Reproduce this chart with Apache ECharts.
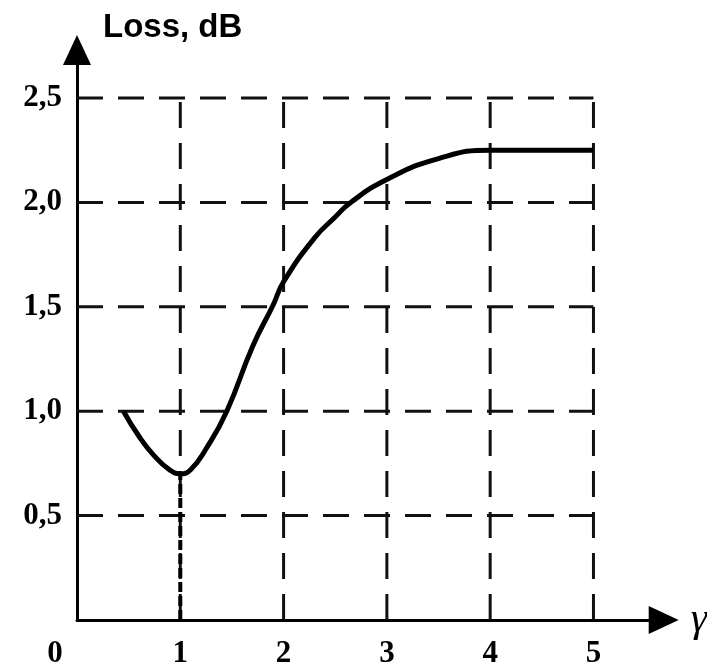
<!DOCTYPE html>
<html>
<head>
<meta charset="utf-8">
<script src="https://cdn.jsdelivr.net/npm/echarts@6/dist/echarts.min.js"></script>
<style>
html,body{margin:0;padding:0;background:#fff;}
#chart{width:707px;height:664px;}
</style>
</head>
<body>
<div id="chart"></div>
<script>
// Curve: loss (dB) vs gamma
const curveX = [0.45, 0.6, 0.75, 0.9, 1.0, 1.1, 1.25, 1.45, 1.7, 1.9, 2.0, 2.3, 2.5, 2.65, 3.0, 3.5, 4.0, 4.5, 5.0];
const curveY = [1.0, 0.88, 0.785, 0.718, 0.7, 0.72, 0.82, 1.0, 1.31, 1.51, 1.62, 1.83, 1.93, 2.0, 2.11, 2.21, 2.25, 2.25, 2.25];
// Drop line from minimum to the x axis
const dropX = [1, 1];
const dropY = [0, 0.7];
// Grid lines and tick labels
const xTicks = [0, 1, 2, 3, 4, 5];
const yTicks = [0.5, 1.0, 1.5, 2.0, 2.5];
const gridXs = [1, 2, 3, 4, 5];
const gridYs = [0.5, 1.0, 1.5, 2.0, 2.5];
const xGridMax = 5;
const yGridMax = 2.5;

const serif = "'Liberation Serif', 'Times New Roman', serif";
const gridStyle = { color: '#111', width: 3, type: [26, 15] };

const series = [];
gridYs.forEach(y => {
  series.push({ type: 'line', data: [[0, y], [xGridMax, y]], symbol: 'none', silent: true,
    lineStyle: gridStyle, z: 1 });
});
gridXs.forEach(x => {
  series.push({ type: 'line', data: [[x, 0], [x, yGridMax]], symbol: 'none', silent: true,
    lineStyle: gridStyle, z: 1 });
});
series.push({ type: 'line', data: dropX.map((x, i) => [x, dropY[i]]), symbol: 'none', silent: true,
  lineStyle: { color: '#000', width: 4, type: [10, 4] }, z: 2 });
series.push({ type: 'line', data: curveX.map((x, i) => [x, curveY[i]]), symbol: 'none',
  smooth: 0.5, lineStyle: { color: '#000', width: 5 }, z: 3 });

const chart = echarts.init(document.getElementById('chart'), null, { renderer: 'canvas' });
chart.setOption({
  animation: false,
  backgroundColor: '#fff',
  grid: { left: 77, right: 43.3, top: 50, bottom: 44, containLabel: false, outerBoundsMode: 'none' },
  xAxis: {
    type: 'value', min: 0, max: 5.68,
    name: 'γ', nameLocation: 'end', nameGap: 27,
    nameTextStyle: { fontFamily: serif, fontStyle: 'italic', fontSize: 42, color: '#000', padding: [0, 0, 24, 0] },
    axisLine: { show: true, onZero: false, symbol: ['none', 'triangle'], symbolSize: [28, 30],
      lineStyle: { color: '#000', width: 3 } },
    axisTick: { show: false },
    splitLine: { show: false },
    axisLabel: {
      customValues: xTicks, margin: 18,
      fontFamily: serif, fontSize: 31, fontWeight: 'bold', color: '#000',
      formatter: v => v === 0 ? '{z|0}' : String(v),
      rich: { z: { fontFamily: serif, fontSize: 31, fontWeight: 'bold', color: '#000', padding: [0, 44, 0, 0] } }
    }
  },
  yAxis: {
    type: 'value', min: 0, max: 2.73,
    name: 'Loss, dB', nameLocation: 'end', nameGap: 6,
    nameTextStyle: { fontFamily: "'Liberation Sans', Arial, sans-serif", fontWeight: 'bold', fontSize: 33, color: '#000',
      align: 'left', verticalAlign: 'bottom', padding: [0, 0, 0, 26] },
    axisLine: { show: true, onZero: false, symbol: ['none', 'triangle'], symbolSize: [28, 30],
      lineStyle: { color: '#000', width: 3 } },
    axisTick: { show: false },
    splitLine: { show: false },
    axisLabel: {
      customValues: yTicks, margin: 15,
      fontFamily: serif, fontSize: 31, fontWeight: 'bold', color: '#000',
      formatter: v => v.toFixed(1).replace('.', ',')
    }
  },
  series: series
});
</script>
</body>
</html>
